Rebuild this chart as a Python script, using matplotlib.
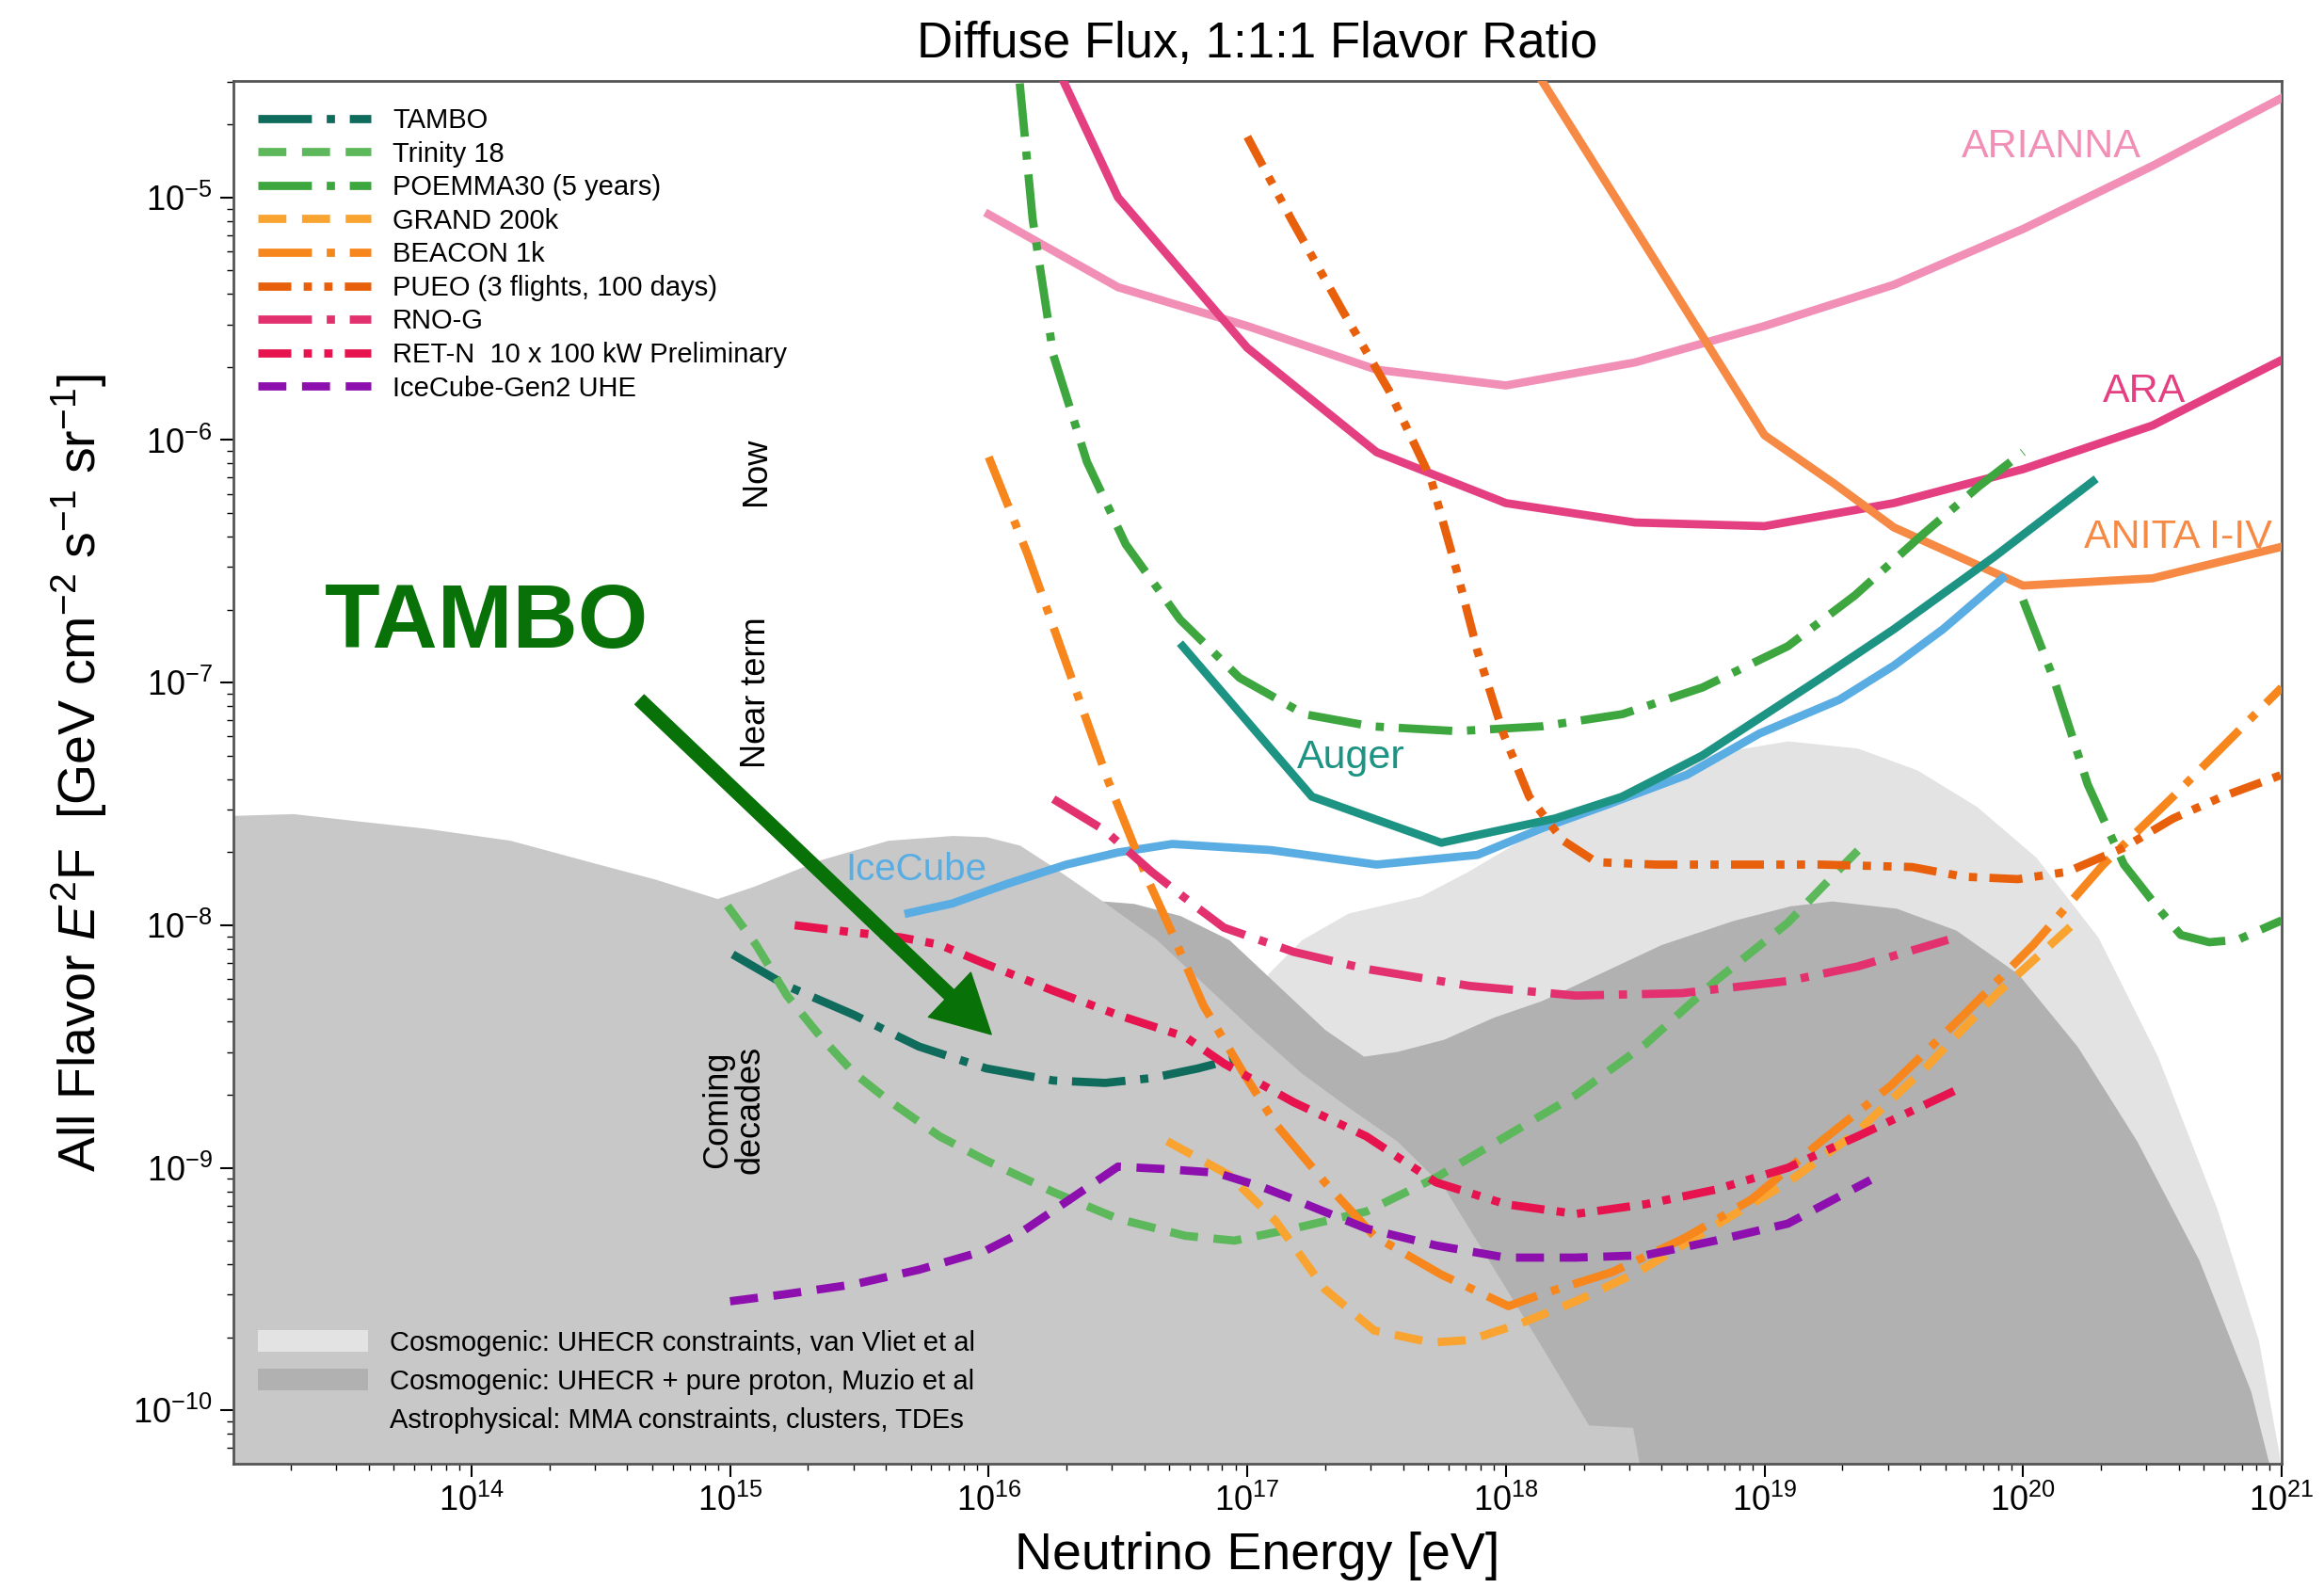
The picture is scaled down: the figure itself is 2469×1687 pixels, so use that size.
import numpy as np
import matplotlib
matplotlib.use("Agg")
import matplotlib.pyplot as plt
from matplotlib.patches import Patch
from matplotlib.ticker import LogLocator, NullFormatter

plt.rcParams['font.family'] = ['Liberation Sans', 'DejaVu Sans']
plt.rcParams['mathtext.fontset'] = 'custom'
plt.rcParams['mathtext.rm'] = 'Liberation Sans'
plt.rcParams['mathtext.it'] = 'Liberation Sans:italic'

# all values are log10(E / eV) and log10(E^2 F / GeV cm^-2 s^-1 sr^-1)

# shaded model bands
vliet_x = [16.9, 17.08, 17.21, 17.39, 17.67, 17.85, 18.04, 18.25, 18.54, 18.81, 19.09, 19.36,
           19.59, 19.82, 20.05, 20.29, 20.52, 20.75, 20.91, 20.99, 21.0]
vliet_y = [-8.8, -8.20, -8.06, -7.95, -7.88, -7.78, -7.66, -7.55, -7.40, -7.29, -7.24, -7.27,
           -7.36, -7.51, -7.72, -8.05, -8.54, -9.17, -9.71, -10.18, -10.3]
muzio_x = [16.3, 16.44, 16.56, 16.74, 16.93, 17.11, 17.30, 17.45, 17.58, 17.76, 17.95, 18.14,
           18.32, 18.60, 18.88, 19.10, 19.26, 19.51, 19.74, 19.98, 20.21, 20.44, 20.68, 20.88, 20.97]
muzio_y = [-8.0, -7.90, -7.91, -7.96, -8.06, -8.24, -8.43, -8.54, -8.52, -8.47, -8.38, -8.31,
           -8.22, -8.08, -7.98, -7.92, -7.90, -7.93, -8.02, -8.20, -8.50, -8.89, -9.38, -9.92, -10.3]
astro_x = [13.0, 13.31, 13.56, 13.82, 14.15, 14.48, 14.71, 14.95, 15.09, 15.35, 15.61, 15.86,
           15.99, 16.12, 16.25, 16.44, 16.65, 16.83, 17.02, 17.21, 17.39, 17.58, 17.76, 17.95,
           18.14, 18.32, 18.49, 18.53]
astro_y = [-7.55, -7.54, -7.57, -7.60, -7.65, -7.745, -7.81, -7.89, -7.84, -7.73, -7.65, -7.63,
           -7.635, -7.67, -7.76, -7.90, -8.06, -8.24, -8.43, -8.61, -8.75, -8.89, -9.08, -9.41,
           -9.74, -10.06, -10.07, -10.3]

# current experiments (solid)
icecube_x = [15.69, 15.86, 16.07, 16.30, 16.50, 16.71, 17.09, 17.50, 17.89, 18.14, 18.40, 18.70,
             18.98, 19.29, 19.50, 19.69, 19.92]
icecube_y = [-7.95, -7.91, -7.83, -7.75, -7.70, -7.665, -7.69, -7.75, -7.71, -7.60, -7.50, -7.38,
             -7.21, -7.07, -6.93, -6.78, -6.57]
auger_x = [16.75, 17.25, 17.75, 18.19, 18.45, 18.76, 19.22, 19.50, 19.89, 20.27]
auger_y = [-6.85, -7.47, -7.66, -7.56, -7.47, -7.30, -6.98, -6.78, -6.48, -6.17]
arianna_x = [16.0, 16.5, 17.0, 17.5, 18.0, 18.5, 19.0, 19.5, 20.0, 20.5, 21.0]
arianna_y = [-5.07, -5.37, -5.53, -5.71, -5.775, -5.68, -5.53, -5.36, -5.13, -4.87, -4.59]
ara_x = [16.28, 16.5, 17.0, 17.5, 18.0, 18.5, 19.0, 19.5, 20.0, 20.5, 21.0]
ara_y = [-4.50, -5.0, -5.62, -6.05, -6.26, -6.34, -6.355, -6.26, -6.12, -5.94, -5.67]
anita_x = [18.14, 18.5, 19.0, 19.27, 19.5, 20.0, 20.5, 21.0]
anita_y = [-4.52, -5.13, -5.98, -6.18, -6.36, -6.60, -6.57, -6.44]

# future experiments (broken lines)
tambo_x = [15.01, 15.22, 15.48, 15.73, 15.99, 16.25, 16.45, 16.63, 16.81, 16.99]
tambo_y = [-8.12, -8.25, -8.37, -8.50, -8.59, -8.64, -8.65, -8.63, -8.59, -8.54]
trinity_x = [14.99, 15.10, 15.22, 15.35, 15.48, 15.61, 15.81, 15.99, 16.25, 16.50, 16.76, 16.95,
             17.18, 17.46, 17.73, 18.00, 18.27, 18.54, 18.81, 19.09, 19.28, 19.40]
trinity_y = [-7.92, -8.08, -8.29, -8.46, -8.61, -8.72, -8.87, -8.97, -9.10, -9.21, -9.28, -9.30,
             -9.25, -9.18, -9.04, -8.87, -8.70, -8.49, -8.23, -7.99, -7.78, -7.65]
poemma_x = [16.12, 16.17, 16.25, 16.38, 16.53, 16.74, 16.97, 17.22, 17.48, 17.81, 18.14, 18.45,
            18.76, 19.09, 19.35, 19.60, 19.83, 20.0]
poemma_y = [-4.53, -5.09, -5.65, -6.09, -6.43, -6.74, -6.98, -7.13, -7.18, -7.20, -7.18, -7.13,
            -7.02, -6.85, -6.64, -6.40, -6.19, -6.05]
poemma2_x = [20.0, 20.12, 20.25, 20.39, 20.53, 20.61, 20.72, 20.83, 21.0]
poemma2_y = [-6.66, -6.99, -7.42, -7.75, -7.94, -8.04, -8.07, -8.06, -7.98]
grand_x = [16.69, 16.93, 17.11, 17.30, 17.49, 17.71, 17.86, 18.06, 18.27, 18.51, 18.79, 19.09,
           19.36, 19.63, 19.90, 20.21]
grand_y = [-8.89, -9.03, -9.22, -9.50, -9.67, -9.72, -9.71, -9.64, -9.55, -9.43, -9.25, -9.06,
           -8.85, -8.58, -8.28, -7.98]
beacon_x = [16.0, 16.15, 16.30, 16.46, 16.61, 16.70, 16.83, 16.98, 17.11, 17.30, 17.49, 17.75,
            18.01, 18.14, 18.41, 18.69, 18.95, 19.22, 19.49, 19.77, 20.04, 20.31, 20.58, 21.0]
beacon_y = [-6.07, -6.47, -6.92, -7.40, -7.80, -8.01, -8.33, -8.60, -8.82, -9.06, -9.28, -9.44,
            -9.57, -9.52, -9.43, -9.29, -9.13, -8.89, -8.66, -8.37, -8.08, -7.75, -7.47, -7.02]
pueo_x = [17.0, 17.17, 17.37, 17.55, 17.71, 17.81, 17.89, 17.99, 18.09, 18.22, 18.35, 18.58,
          18.96, 19.22, 19.57, 19.77, 19.98, 20.17, 20.39, 20.58, 20.77, 21.0]
pueo_y = [-4.75, -5.09, -5.47, -5.80, -6.16, -6.54, -6.87, -7.21, -7.47, -7.65, -7.74, -7.75,
          -7.75, -7.75, -7.76, -7.80, -7.81, -7.78, -7.68, -7.56, -7.47, -7.38]
rnog_x = [16.25, 16.45, 16.63, 16.81, 16.91, 17.18, 17.46, 17.86, 18.27, 18.68, 19.09, 19.36, 19.71]
rnog_y = [-7.48, -7.61, -7.78, -7.93, -8.01, -8.11, -8.18, -8.25, -8.29, -8.28, -8.23, -8.17, -8.06]
retn_x = [15.25, 15.48, 15.66, 15.81, 15.99, 16.25, 16.50, 16.76, 16.91, 17.18, 17.46, 17.73,
          18.00, 18.27, 18.54, 18.81, 19.09, 19.36, 19.74]
retn_y = [-8.0, -8.03, -8.05, -8.08, -8.16, -8.27, -8.37, -8.46, -8.57, -8.73, -8.87, -9.06,
          -9.15, -9.19, -9.15, -9.09, -9.00, -8.87, -8.68]
gen2_x = [15.0, 15.22, 15.48, 15.73, 15.99, 16.12, 16.30, 16.50, 16.68, 16.88, 17.06, 17.18,
          17.46, 17.73, 18.00, 18.27, 18.54, 18.81, 19.09, 19.41]
gen2_y = [-9.55, -9.52, -9.48, -9.42, -9.34, -9.27, -9.14, -8.995, -9.005, -9.02, -9.08, -9.13,
          -9.25, -9.32, -9.37, -9.37, -9.36, -9.30, -9.23, -9.05]

band_labels = ['Cosmogenic: UHECR constraints, van Vliet et al',
               'Cosmogenic: UHECR + pure proton, Muzio et al',
               'Astrophysical: MMA constraints, clusters, TDEs']
x_decades = [14, 15, 16, 17, 18, 19, 20, 21]
y_decades = [-10, -9, -8, -7, -6, -5]

c_light, c_dark, c_astro = '#e3e3e3', '#b1b1b1', '#c8c8c8'
lw = 6.3
dash = (3.4, 1.9)
dashdot = (6.5, 1.8, 1, 1.8)
dashdotdot = (4, 1.5, 1, 1.5, 1, 1.5)


def P(v):
    return 10.0 ** np.asarray(v, dtype=float)


fig = plt.figure(figsize=(24.69, 16.87), dpi=100)
ax = fig.add_axes([0.1004, 0.0782, 0.8814, 0.8708])

ax.fill_between(P(vliet_x), P(vliet_y), 1e-12, color=c_light, lw=0, zorder=1)
ax.fill_between(P(muzio_x), P(muzio_y), 1e-12, color=c_dark, lw=0, zorder=1.1)
ax.fill_between(P(astro_x), P(astro_y), 1e-12, color=c_astro, lw=0, zorder=1.2)

# solid lines for existing experiments
ax.plot(P(arianna_x), P(arianna_y), color='#f28fb7', lw=lw, zorder=3)
ax.plot(P(ara_x), P(ara_y), color='#e43f81', lw=lw, zorder=3)
ax.plot(P(anita_x), P(anita_y), color='#f68a45', lw=lw, zorder=3)
ax.plot(P(icecube_x), P(icecube_y), color='#5aade2', lw=lw, zorder=3)
ax.plot(P(auger_x), P(auger_y), color='#1d9383', lw=lw, zorder=3)

handles = []
def broken(x, y, color, dashes, label):
    ln, = ax.plot(P(x), P(y), color=color, lw=lw, dashes=dashes, label=label, zorder=4)
    handles.append(ln)
    return ln

broken(tambo_x, tambo_y, '#0f6b5c', dashdot, 'TAMBO')
broken(trinity_x, trinity_y, '#5cb85a', dash, 'Trinity 18')
broken(poemma_x, poemma_y, '#3ea63e', dashdot, 'POEMMA30 (5 years)')
ax.plot(P(poemma2_x), P(poemma2_y), color='#3ea63e', lw=lw, dashes=dashdot, zorder=4)
broken(grand_x, grand_y, '#f9a330', dash, 'GRAND 200k')
broken(beacon_x, beacon_y, '#f7861c', dashdot, 'BEACON 1k')
broken(pueo_x, pueo_y, '#e8600c', dashdotdot, 'PUEO (3 flights, 100 days)')
broken(rnog_x, rnog_y, '#e3306f', dashdot, 'RNO-G')
broken(retn_x, retn_y, '#e6134e', dashdotdot, 'RET-N  10 x 100 kW Preliminary')
broken(gen2_x, gen2_y, '#8c0fae', dash, 'IceCube-Gen2 UHE')

ax.set_xscale('log')
ax.set_yscale('log')
ax.set_xlim(10 ** 13.079, 1e21)
ax.set_ylim(10 ** -10.22, 10 ** -4.52)
ax.set_xticks(P(x_decades))
ax.set_yticks(P(y_decades))
ax.xaxis.set_minor_locator(LogLocator(base=10, subs=np.arange(2, 10), numticks=30))
ax.yaxis.set_minor_locator(LogLocator(base=10, subs=np.arange(2, 10), numticks=30))
ax.xaxis.set_minor_formatter(NullFormatter())
ax.yaxis.set_minor_formatter(NullFormatter())

leg1 = ax.legend(handles=handles, loc='upper left', bbox_to_anchor=(0.012, 0.981),
                 frameon=False, fontsize=21, handlelength=4.1, handletextpad=0.8,
                 labelspacing=0.26, borderpad=0, borderaxespad=0)
ax.add_artist(leg1)
band_handles = [Patch(facecolor=c_light, edgecolor='none'),
                Patch(facecolor=c_dark, edgecolor='none'),
                Patch(facecolor=c_astro, edgecolor='none')]
ax.legend(band_handles, band_labels, loc='lower left', bbox_to_anchor=(0.012, 0.022),
          frameon=False, fontsize=21, handlelength=4.0, handleheight=0.85,
          handletextpad=0.8, labelspacing=0.45, borderpad=0, borderaxespad=0)

# curve labels
ax.text(10 ** 20.11, 10 ** -4.79, 'ARIANNA', color='#f28fb7', fontsize=31, ha='center', va='center')
ax.text(10 ** 20.47, 10 ** -5.80, 'ARA', color='#e43f81', fontsize=31, ha='center', va='center')
ax.text(10 ** 20.60, 10 ** -6.40, 'ANITA I-IV', color='#f68a45', fontsize=31, ha='center', va='center')
ax.text(10 ** 17.4, 10 ** -7.31, 'Auger', color='#1d9383', fontsize=31, ha='center', va='center')
ax.text(10 ** 15.72, 10 ** -7.77, 'IceCube', color='#5aade2', fontsize=29, ha='center', va='center')

ax.text(10 ** 15.10, 10 ** -6.13, 'Now', rotation=90, fontsize=26, ha='center', va='center')
ax.text(10 ** 15.10, 10 ** -7.04, 'Near term', rotation=90, fontsize=26, ha='center', va='center')
ax.text(10 ** 15.015, 10 ** -8.76, 'Coming\ndecades', rotation=90, fontsize=26, ha='center',
        va='center', linespacing=0.95)

green = '#087108'
ax.text(10 ** 14.06, 10 ** -6.76, 'TAMBO', color=green, fontsize=69, fontweight='bold',
        ha='center', va='center')
ax.annotate('', xy=(10 ** 16.01, 10 ** -8.45), xytext=(10 ** 14.65, 10 ** -7.07),
            arrowprops=dict(facecolor=green, edgecolor=green, width=10, headwidth=47,
                            headlength=44), zorder=6)

ax.set_title('Diffuse Flux, 1:1:1 Flavor Ratio', fontsize=38, pad=18)
ax.set_xlabel('Neutrino Energy [eV]', fontsize=40, labelpad=10)
ax.set_ylabel(r'All Flavor $E^2$F  [GeV cm$^{-2}$ s$^{-1}$ sr$^{-1}$]', fontsize=40, labelpad=18)

ax.tick_params(which='major', labelsize=26, length=10, width=1.5, pad=6)
ax.tick_params(which='minor', length=5, width=1)
for s in ax.spines.values():
    s.set_color('#555555')
    s.set_linewidth(2)

fig.savefig('out.png', dpi=100)
